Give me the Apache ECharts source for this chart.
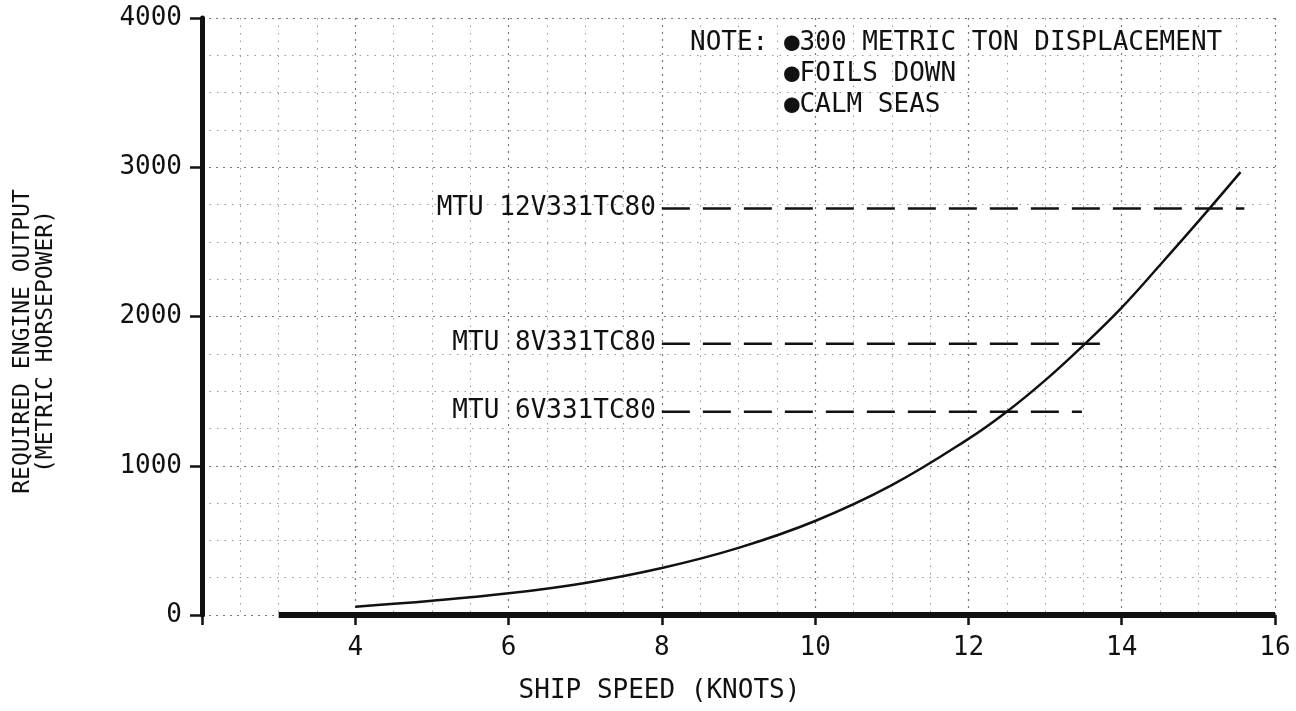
<!DOCTYPE html>
<html>
<head>
<meta charset="utf-8">
<script src="https://cdn.jsdelivr.net/npm/echarts@6/dist/echarts.min.js"></script>
<style>
  html, body { margin: 0; padding: 0; background: #fff; }
  #main { width: 1296px; height: 711px; }
</style>
</head>
<body>
<div id="main"></div>
<script>
// required output curve (knots -> metric hp)
const speed = [4, 5, 6, 7, 8, 9, 10, 11, 12, 12.5, 13, 13.5, 14, 14.5, 15, 15.55]
const horsepower = [55, 95, 145, 215, 315, 450, 630, 870, 1180, 1362, 1572, 1807, 2060, 2345, 2637, 2967]

// engine ratings, drawn as dashed levels
const engineNames = ['MTU 12V331TC80', 'MTU 8V331TC80', 'MTU 6V331TC80']
const engineHp = [2724, 1818, 1362]
const engineFrom = [8, 8, 8]
const engineTo = [15.6, 13.82, 13.48]

// bold speed axis runs from 3 to 16 knots
const baseSpeed = [3, 16]

const noteLines = ['NOTE: ●300 METRIC TON DISPLACEMENT', '      ●FOILS DOWN', '      ●CALM SEAS']

const font = "'DejaVu Sans Mono', monospace"
const ink = '#111'

const curveData = speed.map((s, i) => [s, horsepower[i]])

const engineSeries = engineNames.map((name, i) => ({
  name: name,
  type: 'line',
  symbol: 'circle',
  symbolSize: 0,
  silent: true,
  lineStyle: { color: ink, width: 2.5, type: [28, 13] },
  data: [
    {
      value: [engineFrom[i], engineHp[i]],
      label: {
        show: true,
        position: 'left',
        distance: 6,
        formatter: name,
        color: ink,
        fontFamily: font,
        fontSize: 26
      }
    },
    [engineTo[i], engineHp[i]]
  ]
}))

const myChart = echarts.init(document.getElementById('main'))
const option = {
  backgroundColor: '#fff',
  animation: false,
  title: {
    text: noteLines.join('\n'),
    left: 690,
    top: 28,
    padding: 0,
    textStyle: {
      color: ink,
      fontFamily: font,
      fontSize: 26,
      fontWeight: 'normal',
      lineHeight: 31
    }
  },
  grid: { left: 202, right: 21, top: 18, bottom: 95 },
  xAxis: {
    type: 'value',
    min: 2,
    max: 16,
    interval: 2,
    name: 'SHIP SPEED (KNOTS)',
    nameLocation: 'middle',
    nameGap: 61,
    nameTextStyle: {
      color: ink,
      fontFamily: font,
      fontSize: 26,
      lineHeight: 30,
      padding: [0, 158, 0, 0]
    },
    axisLine: { show: false },
    axisTick: { show: true, length: 10, lineStyle: { color: ink, width: 2.5 } },
    axisLabel: {
      margin: 20,
      color: ink,
      fontFamily: font,
      fontSize: 26,
      formatter: v => (v === 2 ? '' : String(v))
    },
    splitLine: { show: true, lineStyle: { color: '#777', type: [2, 5], width: 1.2 } },
    minorTick: { show: false, splitNumber: 4 },
    minorSplitLine: { show: true, lineStyle: { color: '#999', type: [1.5, 6], width: 1 } }
  },
  yAxis: {
    type: 'value',
    min: 0,
    max: 4000,
    interval: 1000,
    name: 'REQUIRED ENGINE OUTPUT\n(METRIC HORSEPOWER)',
    nameLocation: 'middle',
    nameRotate: 90,
    nameGap: 144,
    nameTextStyle: {
      color: ink,
      fontFamily: font,
      fontSize: 23,
      lineHeight: 23,
      padding: [0, 50, 0, 0]
    },
    axisLine: { show: true, lineStyle: { color: ink, width: 5 } },
    axisTick: { show: true, length: 12, lineStyle: { color: ink, width: 2.5 } },
    axisLabel: {
      margin: 20,
      color: ink,
      fontFamily: font,
      fontSize: 26,
      formatter: v => String(v)
    },
    splitLine: { show: true, lineStyle: { color: '#777', type: [2, 5], width: 1.2 } },
    minorTick: { show: false, splitNumber: 4 },
    minorSplitLine: { show: true, lineStyle: { color: '#999', type: [1.5, 6], width: 1 } }
  },
  series: [
    {
      name: 'base',
      type: 'line',
      symbol: 'none',
      silent: true,
      z: 5,
      lineStyle: { color: ink, width: 6 },
      data: baseSpeed.map(s => [s, 0])
    },
    {
      name: 'required output',
      type: 'line',
      smooth: 0.4,
      symbol: 'none',
      z: 4,
      lineStyle: { color: ink, width: 2.5 },
      data: curveData
    }
  ].concat(engineSeries)
}
myChart.setOption(option)
</script>
</body>
</html>
